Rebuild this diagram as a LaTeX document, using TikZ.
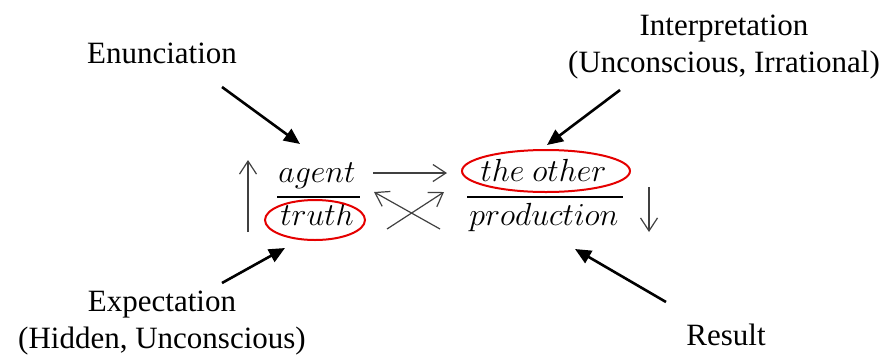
\RequirePackage{fix-cm}
\documentclass[tikz,border=0pt]{standalone}
\usepackage{fontspec}
\setmainfont{Liberation Serif}
\usetikzlibrary{arrows.meta,shapes.geometric}
\begin{document}
\begin{tikzpicture}[x=1pt,y=-1pt,
  lbl/.style={font=\fontsize{31}{37}\selectfont, align=center, inner sep=0pt},
  term/.style={font=\fontsize{32}{36}\selectfont, inner sep=0pt, anchor=base},
  push/.style={line width=2.6pt, -{Triangle[length=16pt,width=14pt]}},
  flow/.style={draw=black!75, line width=1.2pt, -{Straight Barb[length=13pt,width=17pt]}},
  bar/.style={line width=2pt},
  ring/.style={draw=red!90!black, line width=2pt, ellipse, inner sep=0pt}]
\useasboundingbox (0,0) rectangle (883,360);

% outer labels
\node[lbl, anchor=base] (enun) at (162,63) {Enunciation};
\node[lbl, anchor=north] (interp) at (724,14.5) {Interpretation\\(Unconscious, Irrational)};
\node[lbl, anchor=north] (expect) at (162,290.5) {Expectation\\(Hidden, Unconscious)};
\node[lbl, anchor=base] (result) at (726,345) {Result};

% the two fractions
\node[term] (agent) at (317,182) {$agent$};
\node[term] (truth) at (317,225) {$truth$};
\node[term] (other) at (543.5,181) {$the\ other$};
\node[term] (prod) at (544,225) {$production$};
\draw[bar] (277,197) -- (360,197);
\draw[bar] (467,197) -- (623,197);

% circled terms
\node[ring, minimum width=100pt, minimum height=40pt] (truthring) at (315,220) {};
\node[ring, minimum width=168pt, minimum height=42pt] (otherring) at (546,171) {};

% thin flow arrows
\coordinate (upA) at (248,232);  \coordinate (upB) at (248,160);
\coordinate (dnA) at (649,187);  \coordinate (dnB) at (649,232);
\coordinate (rtA) at (373,173);  \coordinate (rtB) at (447,173);
\coordinate (xaA) at (440,229);  \coordinate (xaB) at (374,192);
\coordinate (xbA) at (387,229);  \coordinate (xbB) at (444,192);
\draw[flow] (upA) -- (upB);
\draw[flow] (dnA) -- (dnB);
\draw[flow] (rtA) -- (rtB);
\draw[flow] (xaA) -- (xaB);
\draw[flow] (xbA) -- (xbB);

% bold pointers from the labels
\coordinate (enT) at (222,87);   \coordinate (enH) at (300,144);
\coordinate (inT) at (620,90);   \coordinate (inH) at (547,145);
\coordinate (exT) at (222,283);  \coordinate (exH) at (285,248);
\coordinate (reT) at (666,302);  \coordinate (reH) at (575,249);
\draw[push] (enT) -- (enH);
\draw[push] (inT) -- (inH);
\draw[push] (exT) -- (exH);
\draw[push] (reT) -- (reH);
\end{tikzpicture}
\end{document}
